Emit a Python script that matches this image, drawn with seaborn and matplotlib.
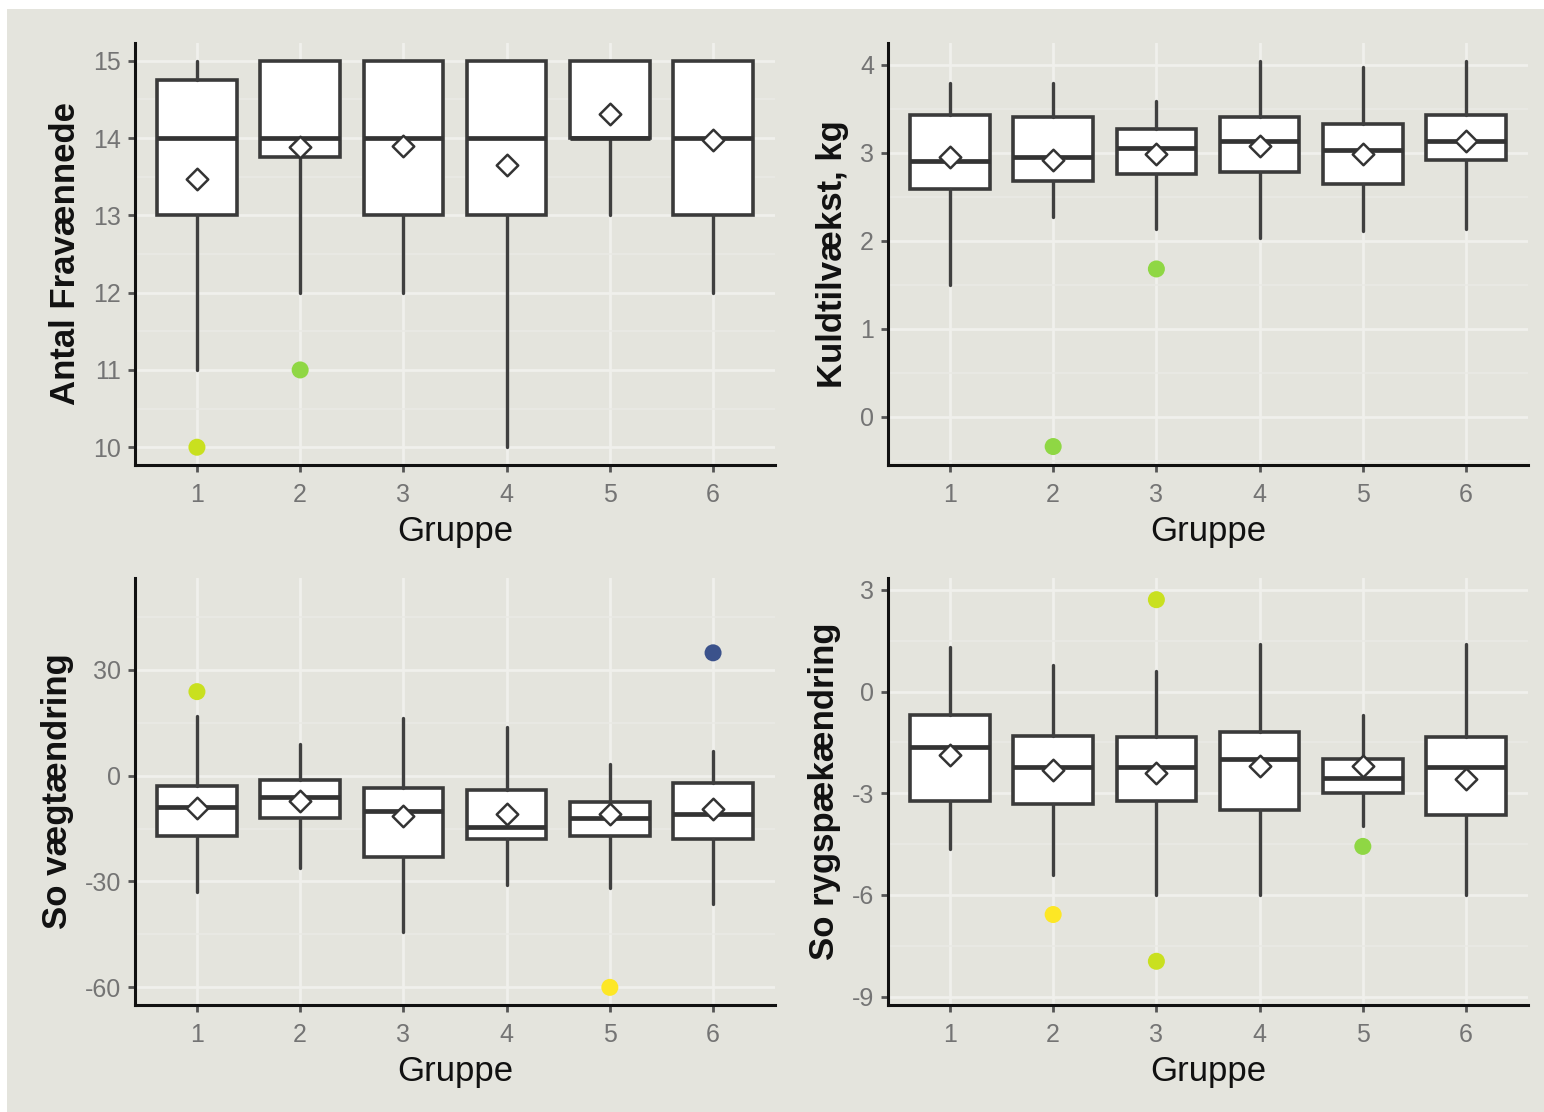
import matplotlib
matplotlib.use("Agg")
import matplotlib.pyplot as plt
from matplotlib.patches import Rectangle
from matplotlib.ticker import MultipleLocator
import pandas as pd
import seaborn as sns

groups = [1, 2, 3, 4, 5, 6]

# --- Antal Fravænnede ---
fra_q1 = [13.0, 13.75, 13.0, 13.0, 14.0, 13.0]
fra_med = [14.0, 14.0, 14.0, 14.0, 14.0, 14.0]
fra_q3 = [14.75, 15.0, 15.0, 15.0, 15.0, 15.0]
fra_lo = [11.0, 12.0, 12.0, 10.0, 13.0, 12.0]
fra_hi = [15.0, 15.0, 15.0, 15.0, 15.0, 15.0]
fra_mean = [13.47, 13.89, 13.90, 13.65, 14.31, 13.97]
fra_out_grp = [1, 2]
fra_out_val = [10.0, 11.0]
fra_out_col = ['#c9e01f', '#8fd744']

# --- Kuldtilvækst, kg ---
kul_q1 = [2.59, 2.68, 2.76, 2.78, 2.65, 2.92]
kul_med = [2.91, 2.95, 3.05, 3.14, 3.03, 3.14]
kul_q3 = [3.43, 3.41, 3.27, 3.41, 3.33, 3.43]
kul_lo = [1.50, 2.27, 2.14, 2.03, 2.11, 2.14]
kul_hi = [3.80, 3.80, 3.59, 4.05, 3.98, 4.05]
kul_mean = [2.95, 2.92, 2.99, 3.08, 2.99, 3.14]
kul_out_grp = [2, 3]
kul_out_val = [-0.34, 1.68]
kul_out_col = ['#8fd744', '#8fd744']

# --- So vægtændring ---
vgt_q1 = [-17.2, -12.1, -23.1, -18.0, -17.1, -18.0]
vgt_med = [-9.0, -6.2, -10.0, -14.5, -12.0, -10.8]
vgt_q3 = [-2.9, -1.1, -3.4, -4.0, -7.4, -2.0]
vgt_lo = [-33.0, -26.1, -44.2, -31.0, -31.9, -36.5]
vgt_hi = [17.0, 9.0, 16.2, 13.7, 3.4, 7.1]
vgt_mean = [-9.1, -7.1, -11.4, -10.8, -10.8, -9.4]
vgt_out_grp = [1, 5, 6]
vgt_out_val = [23.8, -60.0, 34.8]
vgt_out_col = ['#c9e01f', '#fde725', '#3b528b']

# --- So rygspækændring ---
ryg_q1 = [-3.24, -3.33, -3.24, -3.50, -2.98, -3.63]
ryg_med = [-1.65, -2.24, -2.24, -2.00, -2.54, -2.24]
ryg_q3 = [-0.68, -1.30, -1.33, -1.20, -1.98, -1.33]
ryg_lo = [-4.66, -5.40, -6.00, -6.00, -3.98, -6.00]
ryg_hi = [1.30, 0.77, 0.62, 1.39, -0.70, 1.39]
ryg_mean = [-1.86, -2.33, -2.39, -2.21, -2.21, -2.57]
ryg_out_grp = [2, 3, 3, 5]
ryg_out_val = [-6.58, 2.71, -7.96, -4.57]
ryg_out_col = ['#fde725', '#c9e01f', '#c9e01f', '#8fd744']

panels = [
    dict(label='Antal Fravænnede', q1=fra_q1, med=fra_med, q3=fra_q3, lo=fra_lo, hi=fra_hi,
         mean=fra_mean, og=fra_out_grp, ov=fra_out_val, oc=fra_out_col,
         ylim=(9.77, 15.23), major=1, minor=0.5),
    dict(label='Kuldtilvækst, kg', q1=kul_q1, med=kul_med, q3=kul_q3, lo=kul_lo, hi=kul_hi,
         mean=kul_mean, og=kul_out_grp, ov=kul_out_val, oc=kul_out_col,
         ylim=(-0.55, 4.25), major=1, minor=0.5),
    dict(label='So vægtændring', q1=vgt_q1, med=vgt_med, q3=vgt_q3, lo=vgt_lo, hi=vgt_hi,
         mean=vgt_mean, og=vgt_out_grp, ov=vgt_out_val, oc=vgt_out_col,
         ylim=(-65.0, 56.0), major=30, minor=15),
    dict(label='So rygspækændring', q1=ryg_q1, med=ryg_med, q3=ryg_q3, lo=ryg_lo, hi=ryg_hi,
         mean=ryg_mean, og=ryg_out_grp, ov=ryg_out_val, oc=ryg_out_col,
         ylim=(-9.25, 3.35), major=3, minor=1.5),
]

bg = '#e4e4dd'
sns.set_theme(style='darkgrid')
plt.rcParams['font.family'] = ['Liberation Sans', 'DejaVu Sans']
plt.rcParams['axes.unicode_minus'] = False

W, H = 1544, 1112
fig = plt.figure(figsize=(W / 100, H / 100), dpi=100, facecolor='white')
fig.patches.append(Rectangle((7 / W, 0), 1 - 7 / W, 1 - 9 / H, transform=fig.transFigure,
                             facecolor=bg, edgecolor='none', zorder=-10))

# axes boxes in pixels: left, right, top, bottom
boxes = [(135, 775, 43, 465), (888, 1528, 43, 465),
         (135, 775, 578, 1005), (888, 1528, 578, 1005)]

for p, (l, r, t, b) in zip(panels, boxes):
    ax = fig.add_axes([l / W, 1 - b / H, (r - l) / W, (b - t) / H])
    ax.set_facecolor(bg)

    stats = [dict(med=m, q1=a, q3=c, whislo=lo, whishi=hi, fliers=[])
             for m, a, c, lo, hi in zip(p['med'], p['q1'], p['q3'], p['lo'], p['hi'])]
    ax.bxp(stats, positions=groups, widths=0.77, patch_artist=True, showcaps=False,
           boxprops=dict(facecolor='white', edgecolor='#3a3a3a', linewidth=2.6),
           medianprops=dict(color='#333333', linewidth=3.4),
           whiskerprops=dict(color='#3f3f3f', linewidth=2.4), zorder=2)

    outl = pd.DataFrame({'Gruppe': p['og'], 'v': p['ov'], 'c': p['oc']})
    sns.scatterplot(data=outl, x='Gruppe', y='v', hue='c', palette={c: c for c in outl['c']},
                    s=150, edgecolor='none', legend=False, ax=ax, zorder=3)

    means = pd.DataFrame({'Gruppe': groups, 'v': p['mean']})
    sns.scatterplot(data=means, x='Gruppe', y='v', marker='D', s=120, color='white',
                    edgecolor='#333333', linewidth=1.8, ax=ax, zorder=4)

    ax.set_xlim(0.4, 6.6)
    ax.set_ylim(*p['ylim'])
    ax.set_xticks(groups)
    ax.set_xticklabels([str(g) for g in groups])
    ax.yaxis.set_major_locator(MultipleLocator(p['major']))
    ax.yaxis.set_minor_locator(MultipleLocator(p['minor']))
    ax.grid(which='major', color='#f0f0ec', linewidth=2.0)
    ax.grid(which='minor', color='#eaeae5', linewidth=1.2)
    ax.set_axisbelow(True)

    for side in ['top', 'right']:
        ax.spines[side].set_visible(False)
    for side in ['left', 'bottom']:
        ax.spines[side].set_visible(True)
        ax.spines[side].set_color('#111111')
        ax.spines[side].set_linewidth(2.2)

    ax.tick_params(axis='both', which='major', length=5, width=2, color='#555555',
                   labelsize=18, labelcolor='#747474', pad=5, left=True, bottom=True)
    ax.tick_params(axis='x', which='major', pad=8)
    ax.tick_params(axis='both', which='minor', length=0)
    ax.set_xlabel('Gruppe', fontsize=25, color='#111111', labelpad=6)
    ax.set_ylabel(p['label'], fontsize=25, fontweight='bold', color='#111111', labelpad=8)

fig.savefig('out.png', dpi=100, facecolor=fig.get_facecolor())
